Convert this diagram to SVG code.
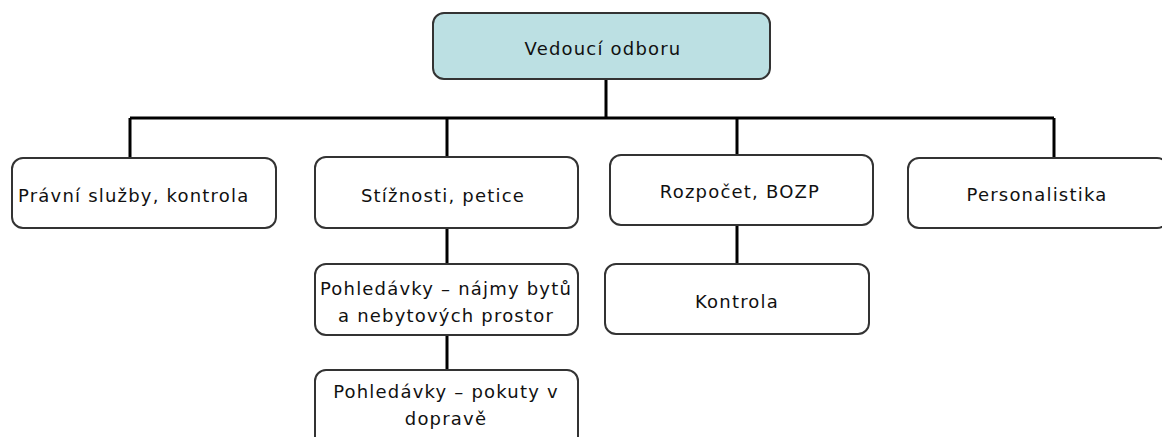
<svg xmlns="http://www.w3.org/2000/svg" width="1162" height="437" viewBox="0 0 1162 437">
<style>
.box{fill:#fff;stroke:#333;stroke-width:2}
.top{fill:#bce0e3}
.t{font-family:"DejaVu Sans",sans-serif;font-size:18px;letter-spacing:1.2px;fill:#111;text-anchor:middle}
.c{stroke:#000;stroke-width:3;fill:none}
</style>
<rect width="1162" height="437" fill="#fff"/>
<g id="connectors">
<path class="c" d="M606 79V118M130 118H1054M130 118V158M447 118V157M737 118V155M1054 118V158M447 228V264M447 335V370M737 225V264"/>
</g>
<g id="n-vedouci"><rect class="box top" x="433" y="13" width="337" height="66" rx="11"/><text class="t" x="603" y="55">Vedoucí odboru</text></g>
<g id="n-pravni"><rect class="box" x="12" y="158" width="264" height="70" rx="11"/><text class="t" x="18" y="202" style="text-anchor:start">Právní služby, kontrola</text></g>
<g id="n-stiznosti"><rect class="box" x="315" y="157" width="263" height="71" rx="11"/><text class="t" x="443" y="202">Stížnosti, petice</text></g>
<g id="n-rozpocet"><rect class="box" x="610" y="155" width="263" height="70" rx="11"/><text class="t" x="740" y="198">Rozpočet, BOZP</text></g>
<g id="n-personalistika"><rect class="box" x="908" y="158" width="260" height="70" rx="11"/><text class="t" x="1037" y="201">Personalistika</text></g>
<g id="n-pohl1"><rect class="box" x="315" y="264" width="263" height="71" rx="11"/><text class="t" x="446" y="295">Pohledávky – nájmy bytů</text><text class="t" x="446" y="322">a nebytových prostor</text></g>
<g id="n-kontrola"><rect class="box" x="605" y="264" width="264" height="70" rx="11"/><text class="t" x="737" y="308">Kontrola</text></g>
<g id="n-pohl2"><rect class="box" x="315" y="370" width="263" height="80" rx="11"/><text class="t" x="446" y="398">Pohledávky – pokuty v</text><text class="t" x="446" y="425">dopravě</text></g>
</svg>
